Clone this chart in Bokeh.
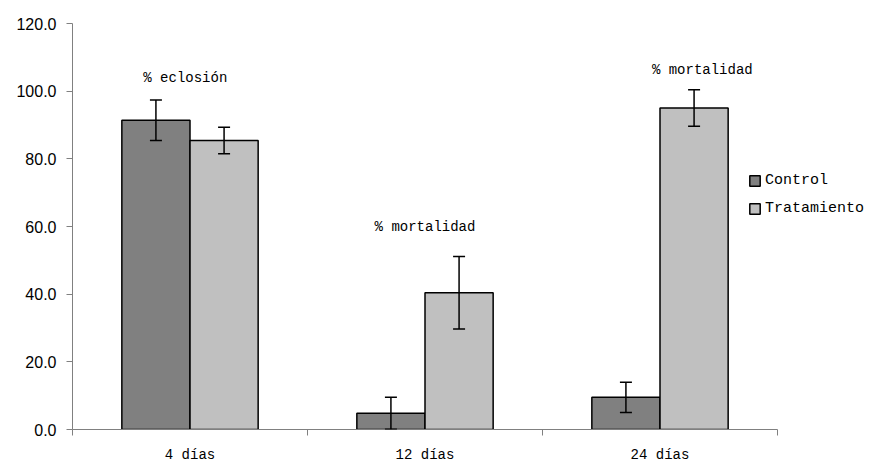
from bokeh.plotting import figure
from bokeh.models import (ColumnDataSource, Whisker, TeeHead, FixedTicker, Legend,
                          LegendItem, NumeralTickFormatter, Range1d)
from bokeh.core.properties import value
from bokeh.embed import file_html
from bokeh.resources import INLINE

# ---- data ----
categories = ["4 días", "12 días", "24 días"]
series = ["Control", "Tratamiento"]
control = [91.4, 4.8, 9.5]
control_err = [6.0, 4.7, 4.5]
tratamiento = [85.4, 40.4, 95.0]
tratamiento_err = [3.9, 10.7, 5.4]
notes = ["% eclosión", "% mortalidad", "% mortalidad"]
note_x = [0.48, 1.50, 2.68]
note_y = [104.0, 60.0, 106.4]
y_ticks = [0, 20, 40, 60, 80, 100, 120]

n = len(categories)
centers = [i + 0.5 for i in range(n)]
bw = 0.29

# layout (pixels)
AXIS_PX = 705       # width of the category axis
FRAME_W = 800       # frame extends right to hold the legend
FRAME_H = 406
x_end = n * FRAME_W / AXIS_PX

src_c = ColumnDataSource(dict(x=[c - bw / 2 for c in centers], top=control,
                              lo=[v - e for v, e in zip(control, control_err)],
                              hi=[v + e for v, e in zip(control, control_err)]))
src_t = ColumnDataSource(dict(x=[c + bw / 2 for c in centers], top=tratamiento,
                              lo=[v - e for v, e in zip(tratamiento, tratamiento_err)],
                              hi=[v + e for v, e in zip(tratamiento, tratamiento_err)]))

p = figure(frame_width=FRAME_W, frame_height=FRAME_H, output_backend="svg",
           toolbar_location=None,
           x_range=Range1d(0, x_end), y_range=Range1d(0, 120),
           min_border_left=72, min_border_right=0, min_border_top=23, min_border_bottom=33)
p.outline_line_color = None
p.xgrid.visible = False
p.ygrid.visible = False

r_c = p.vbar(x="x", top="top", width=bw, source=src_c, fill_color="#808080",
             line_color="black", line_width=1.5)
r_t = p.vbar(x="x", top="top", width=bw, source=src_t, fill_color="#C0C0C0",
             line_color="black", line_width=1.5)

for src in (src_c, src_t):
    w = Whisker(base="x", lower="lo", upper="hi", source=src, line_color="black",
                line_width=1.5, level="annotation",
                upper_head=TeeHead(size=12, line_color="black", line_width=1.5),
                lower_head=TeeHead(size=12, line_color="black", line_width=1.5))
    p.add_layout(w)

p.text(x=note_x, y=note_y, text=notes, text_align="center", text_baseline="middle",
       text_font=value("Liberation Mono"), text_font_size="14px", text_color="black")

# axes
yax = p.yaxis[0]
yax.ticker = FixedTicker(ticks=y_ticks)
yax.formatter = NumeralTickFormatter(format="0.0")
yax.axis_line_color = "#808080"
yax.major_tick_line_color = "#808080"
yax.major_tick_out = 6
yax.major_tick_in = 0
yax.minor_tick_line_color = None
yax.major_label_standoff = 10
yax.major_label_text_font = "Liberation Sans"
yax.major_label_text_font_size = "16px"
yax.major_label_text_color = "black"

xax = p.xaxis[0]
xax.bounds = (0, n)
xax.ticker = FixedTicker(ticks=centers, minor_ticks=list(range(n + 1)))
xax.major_label_overrides = {c: lab for c, lab in zip(centers, categories)}
xax.axis_line_color = "#808080"
xax.major_tick_line_color = None
xax.major_tick_out = 0
xax.major_tick_in = 0
xax.minor_tick_line_color = "#808080"
xax.minor_tick_out = 6
xax.minor_tick_in = 0
xax.major_label_standoff = 11
xax.major_label_text_font = "Liberation Mono"
xax.major_label_text_font_size = "14px"
xax.major_label_text_color = "black"

legend = Legend(items=[LegendItem(label=series[0], renderers=[r_c]),
                       LegendItem(label=series[1], renderers=[r_t])],
                location=(676, 212), orientation="vertical",
                glyph_width=13, glyph_height=13, spacing=11, padding=0, margin=0,
                label_standoff=4, label_text_font="Liberation Mono",
                label_text_font_size="15px", label_text_color="black",
                border_line_color=None, background_fill_alpha=0)
p.add_layout(legend, "center")

open("out.html", "w").write(file_html(p, INLINE))
